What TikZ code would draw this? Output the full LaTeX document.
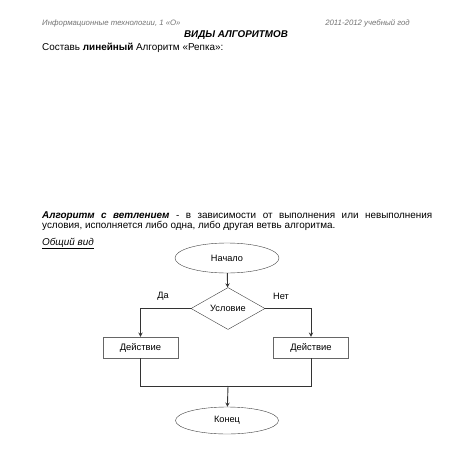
\documentclass[tikz,border=0pt]{standalone}
\usepackage{fontspec}
\setmainfont{Liberation Sans}
\usetikzlibrary{shapes.geometric,arrows}

\tikzset{
  txt/.style={anchor=base west,inner sep=0pt,font=\fontsize{9.9}{10.8}\selectfont},
  head/.style={anchor=base west,inner sep=0pt,text=black!55,font=\fontsize{7.8}{9}\selectfont\itshape},
  term/.style={draw=black!75,ellipse,minimum width=104pt,minimum height=30pt,inner sep=0pt,font=\fontsize{9.2}{10}\selectfont},
  cond/.style={draw=black!75,diamond,minimum width=74pt,minimum height=37pt,inner sep=0pt,font=\fontsize{9.2}{10}\selectfont},
  act/.style={draw=black!60,rectangle,minimum width=75pt,minimum height=21pt,inner sep=0pt,font=\fontsize{9.4}{10}\selectfont},
  lbl/.style={inner sep=0pt,font=\fontsize{9.2}{10}\selectfont},
  link/.style={draw=black!80,line width=0.9pt}
}

\begin{document}
\begin{tikzpicture}[x=1pt,y=-1pt,>=stealth]
            \useasboundingbox[fill=white] (0,0) rectangle (453,453);
            % page head
            \node[head] (headL) at (42,25){Информационные технологии, 1 «О»};
            \node[head,anchor=base east] (headR) at (410,25){2011-2012 учебный год};
            \node[txt,anchor=base,font=\fontsize{9.8}{11}\selectfont\bfseries\itshape] (title) at (236,37){ВИДЫ АЛГОРИТМОВ};
            \node[txt] (task) at (42,50){Составь \textbf{линейный} Алгоритм «Репка»:};
            % branching
            \node[txt,text width=390pt,align=justify] (para) at (42,218){\textbf{\itshape Алгоритм с ветлением} - в зависимости от выполнения или невыполнения\linebreak условия, исполняется либо одна, либо другая ветвь алгоритма.};
            \node[txt] (kind) at (42,245){\itshape\underline{Общий вид}};

            \node[term] (start) at (227,258){Начало};
            \node[cond] (ifnode) at (228,308.5){Условие};
            \node[act] (actL) at (140.5,347.5){Действие};
            \node[act] (actR) at (311,347.5){Действие};
            \coordinate (join) at (228,386);
            \node[term,minimum width=103pt,minimum height=27pt] (stop) at (227,420.5){Конец};
            \node[lbl] (yes) at (163,296){Да};
            \node[lbl] (no) at (281,296){Нет};

            \draw[link,->] (start) -- (ifnode);
            \draw[link,->] (ifnode.west) -| (actL.north);
            \draw[link,->] (ifnode.east) -| (actR.north);
            \draw[link] (actL.south) |- (join);
            \draw[link] (actR.south) |- (join);
            \draw[link,->] (join) -- (stop);
          \end{tikzpicture}
\end{document}
